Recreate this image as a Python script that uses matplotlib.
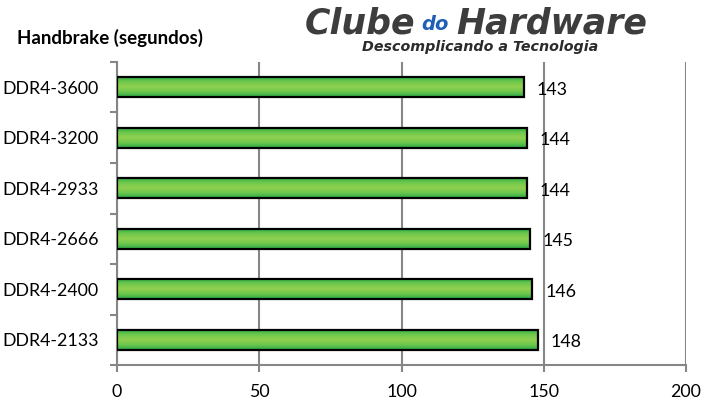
import numpy as np
import matplotlib.pyplot as plt
from matplotlib.colors import LinearSegmentedColormap

categories = ["DDR4-3600", "DDR4-3200", "DDR4-2933", "DDR4-2666", "DDR4-2400", "DDR4-2133"]
values = [143, 144, 144, 145, 146, 148]
xticks = [0, 50, 100, 150, 200]

plt.rcParams["font.family"] = ["Lato", "DejaVu Sans"]
GRID = "#868686"
FS = 12.8

fig = plt.figure(figsize=(7.13, 4.09), dpi=100)
ax = fig.add_axes([117/713, 1 - 365/409, (686 - 117)/713, (365 - 62)/409])

green = LinearSegmentedColormap.from_list("g", ["#2aa845", "#6cc84c", "#92d050", "#6cc84c", "#2aa845"])
grad = np.linspace(0, 1, 64).reshape(-1, 1)

y = np.arange(len(categories))[::-1]
h = 0.4
for yi, v in zip(y, values):
    ax.imshow(grad, cmap=green, aspect="auto", extent=[0, v, yi - h/2, yi + h/2],
              zorder=3, interpolation="bilinear")
    ax.barh(yi, v, height=h, facecolor="none", edgecolor="black", linewidth=1.6, zorder=4)
    ax.text(v + 4.5, yi - 0.05, str(v), va="center", ha="left", fontsize=FS, color="black")

ax.set_xlim(0, 200)
ax.set_ylim(-0.5, len(categories) - 0.5)
ax.set_xticks(xticks)
ax.set_yticks(y)
ax.set_yticklabels(categories)
ax.set_yticks(np.arange(len(categories) + 1) - 0.5, minor=True)
ax.tick_params(axis="y", which="major", length=0, pad=13, labelsize=FS)
ax.tick_params(axis="y", which="minor", length=5, color=GRID, width=1.5)
ax.tick_params(axis="x", length=5, color=GRID, width=1.5, pad=9, labelsize=FS)
ax.grid(True, axis="x", color=GRID, linewidth=1.5, zorder=0)
for s in ["top", "right"]:
    ax.spines[s].set_visible(False)
for s in ["left", "bottom"]:
    ax.spines[s].set_color(GRID)
    ax.spines[s].set_linewidth(1.5)

fig.text(17/713, 1 - 38/409, "Handbrake (segundos)", fontsize=13.5, fontweight="bold",
         va="center", ha="left")

# logo
fig.text(305/713, 1 - 23/409, "Clube", fontsize=25, fontweight="bold", style="italic",
         color="#3d3d3d", va="center", ha="left", family="DejaVu Sans")
fig.text(421/713, 1 - 25/409, "do", fontsize=14, fontweight="bold", style="italic",
         color="#1f5fb8", va="center", ha="left", family="DejaVu Sans")
fig.text(456/713, 1 - 23/409, "Hardware", fontsize=25, fontweight="bold", style="italic",
         color="#3d3d3d", va="center", ha="left", family="DejaVu Sans")
fig.text(362/713, 1 - 47/409, "Descomplicando a Tecnologia", fontsize=10.3, fontweight="bold",
         style="italic", color="#2b2b2b", va="center", ha="left", family="DejaVu Sans")

fig.savefig("out.png", dpi=100)
